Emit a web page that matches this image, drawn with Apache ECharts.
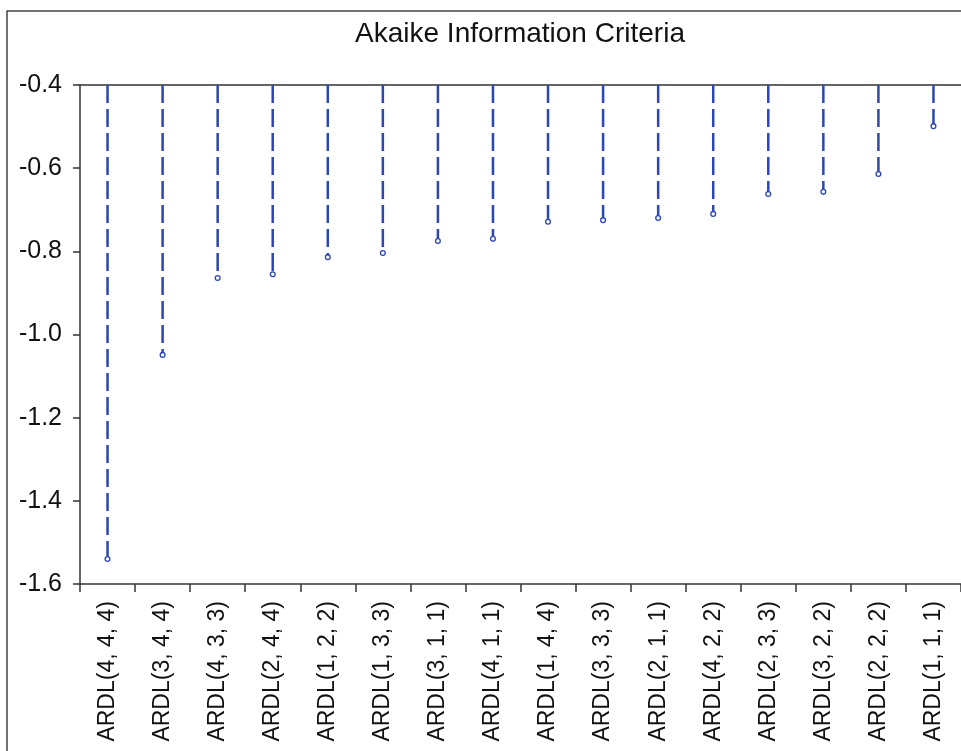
<!DOCTYPE html>
<html>
<head>
<meta charset="utf-8">
<script src="https://cdn.jsdelivr.net/npm/echarts@6/dist/echarts.min.js"></script>
<style>
html,body{margin:0;padding:0;background:#fff;}
#chart{width:961px;height:751px;}
</style>
</head>
<body>
<div id="chart"></div>
<script>
const chartTitle = 'Akaike Information Criteria';
const categories = ['ARDL(4, 4, 4)','ARDL(3, 4, 4)','ARDL(4, 3, 3)','ARDL(2, 4, 4)','ARDL(1, 2, 2)','ARDL(1, 3, 3)','ARDL(3, 1, 1)','ARDL(4, 1, 1)','ARDL(1, 4, 4)','ARDL(3, 3, 3)','ARDL(2, 1, 1)','ARDL(4, 2, 2)','ARDL(2, 3, 3)','ARDL(3, 2, 2)','ARDL(2, 2, 2)','ARDL(1, 1, 1)'];
const aicValues = [-1.540,-1.049,-0.864,-0.855,-0.814,-0.804,-0.775,-0.770,-0.729,-0.725,-0.720,-0.710,-0.662,-0.657,-0.614,-0.499];
const yMin = -1.6, yMax = -0.4, yStep = 0.2;

const chart = echarts.init(document.getElementById('chart'));
const stemColor = '#2c46b3';
const data = aicValues.map((v, i) => [i, v]);
const font = 'Liberation Sans, Arial, sans-serif';

chart.setOption({
  animation: false,
  backgroundColor: '#fff',
  graphic: [
    { type: 'rect', shape: { x: 7, y: 11, width: 1000, height: 800 }, style: { fill: 'none', stroke: '#444', lineWidth: 1.5 }, z: -1 },
    { type: 'text', x: 520, y: 34, style: { text: chartTitle, fontFamily: font, fontSize: 28, fill: '#111', textAlign: 'center', textVerticalAlign: 'middle' } }
  ],
  grid: { left: 80, right: 0, top: 85, bottom: 167, containLabel: false },
  xAxis: [
    {
      type: 'category', data: categories, position: 'bottom',
      axisLine: { show: true, lineStyle: { color: '#333', width: 1.5 } },
      axisTick: { show: true, length: 8, lineStyle: { color: '#333', width: 1.5 } },
      axisLabel: { rotate: 90, margin: 17, color: '#111', fontSize: 23, fontFamily: font, interval: 0 },
      splitLine: { show: false }
    },
    {
      type: 'category', data: categories, position: 'top',
      axisLine: { show: true, lineStyle: { color: '#333', width: 1.5 } },
      axisTick: { show: false }, axisLabel: { show: false }, splitLine: { show: false }
    }
  ],
  yAxis: {
    type: 'value', min: yMin, max: yMax, interval: yStep,
    axisLine: { show: true, lineStyle: { color: '#333', width: 1.5 } },
    axisTick: { show: true, length: 7, lineStyle: { color: '#333', width: 1.5 } },
    axisLabel: { margin: 18, color: '#111', fontSize: 25, fontFamily: font, formatter: v => v.toFixed(1) },
    splitLine: { show: false }
  },
  series: [{
    type: 'custom',
    data: data,
    encode: { x: 0, y: 1 },
    renderItem: function (params, api) {
      const i = api.value(0), v = api.value(1);
      const top = api.coord([i, yMax]);
      const end = api.coord([i, v]);
      return {
        type: 'group',
        children: [
          { type: 'line', shape: { x1: top[0], y1: top[1], x2: end[0], y2: end[1] - 2 }, style: { stroke: stemColor, lineWidth: 2.5, lineDash: [18, 6] } },
          { type: 'circle', shape: { cx: end[0], cy: end[1], r: 2.4 }, style: { fill: '#fff', stroke: stemColor, lineWidth: 1.3 } }
        ]
      };
    }
  }]
});
</script>
</body>
</html>
